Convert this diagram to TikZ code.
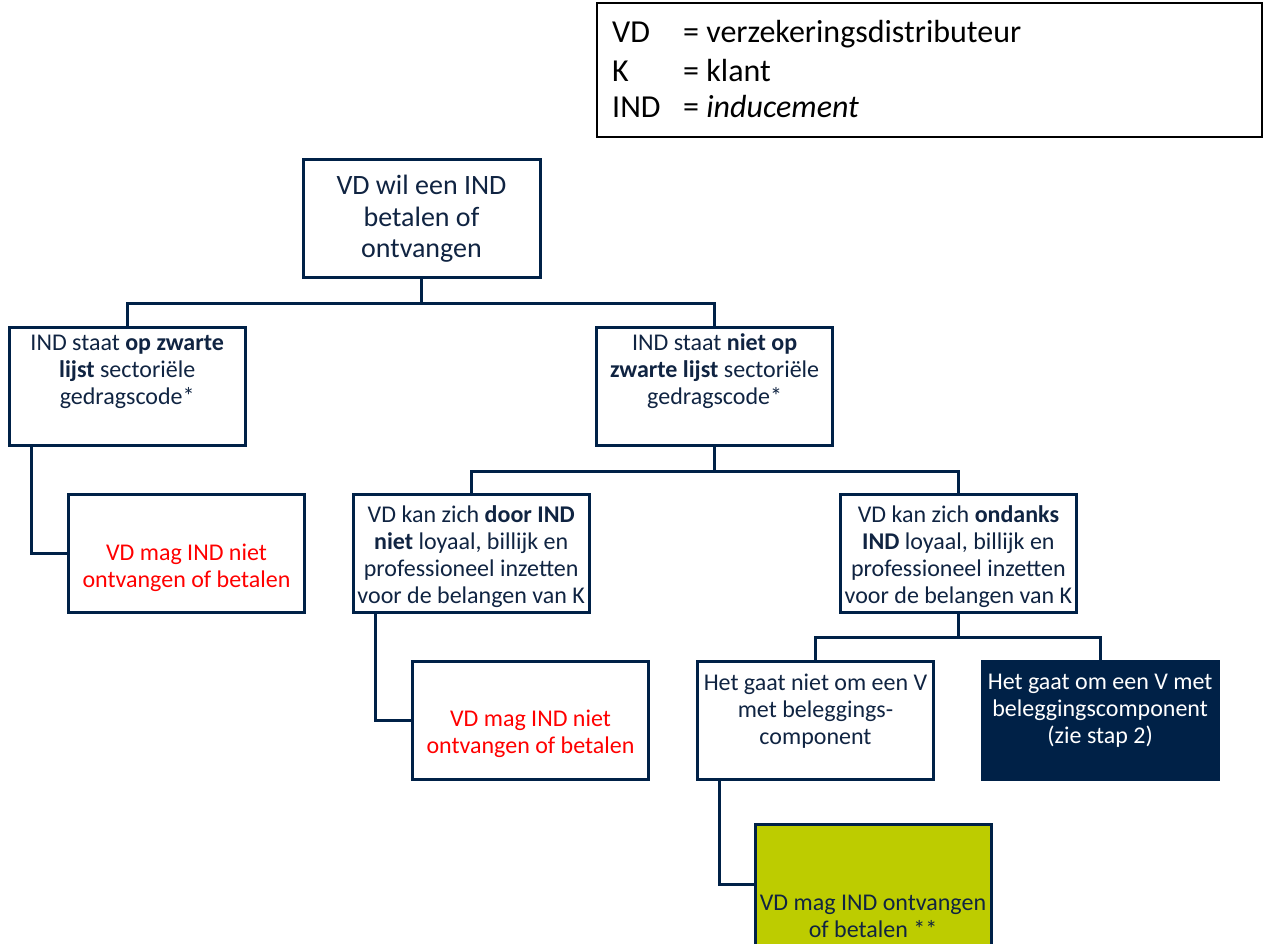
\documentclass[tikz,border=0pt]{standalone}
\usepackage{fontspec}
\setmainfont{Carlito}
\definecolor{navy}{RGB}{0,33,71}
\definecolor{navytext}{RGB}{16,36,66}
\definecolor{limegreen}{RGB}{189,204,0}
\definecolor{alertred}{RGB}{255,0,0}
\begin{document}
\begin{tikzpicture}[x=1pt,y=-1pt,
  box/.style={draw=navy, line width=3pt, minimum width=236pt, minimum height=118pt, inner sep=0pt},
  conn/.style={draw=navy, line width=3pt},
  txt/.style={text=navytext, align=center, inner sep=0pt, font=\fontsize{24}{27}\selectfont},
  legtxt/.style={text=black, anchor=base west, inner sep=0pt, font=\fontsize{32}{38}\selectfont}]
\useasboundingbox (0,0) rectangle (1266,944);
\fill[white] (0,0) rectangle (1266,944);

% legend
\node[draw=black, line width=1.5pt, minimum width=665pt, minimum height=134pt, inner sep=0pt] (leg) at (929.5,70) {};
\node[legtxt] (la) at (612,43) {VD};
\node[legtxt] (lb) at (612,82) {K};
\node[legtxt] (lc) at (612,118) {IND};
\node[legtxt] (lad) at (683,43) {= verzekeringsdistributeur};
\node[legtxt] (lbd) at (683,82) {= klant};
\node[legtxt] (lcd) at (683,118) {= \textit{inducement}};

% boxes
\node[box, minimum width=237pt, minimum height=117pt] (top) at (421.5,218.5) {};
\node[box] (l1) at (127.2,386) {};
\node[box] (m1) at (714.6,386) {};
\node[box] (r1) at (186.5,553) {};
\node[box] (door) at (471.2,553) {};
\node[box] (ond) at (958.4,553) {};
\node[box] (r2) at (530.5,720) {};
\node[box] (het) at (815.5,720) {};
\node[box, fill=navy] (dark) at (1100.1,720) {};
\node[box, fill=limegreen, minimum height=186pt] (green) at (873,917) {};

% texts
\node[txt, font=\fontsize{28}{31.5}\selectfont] (topt) at (421.5,219) {VD wil een IND\\betalen of\\ontvangen};
\node[txt] (l1t) at (127.2,371.5) {IND staat \textbf{op zwarte}\\\textbf{lijst} sectoriële\\gedragscode*};
\node[txt] (m1t) at (714.6,371.5) {IND staat \textbf{niet op}\\\textbf{zwarte lijst} sectoriële\\gedragscode*};
\node[txt, text=alertred] (r1t) at (186.5,567.5) {VD mag IND niet\\ontvangen of betalen};
\node[txt] (doort) at (471.2,557) {VD kan zich \textbf{door IND}\\\textbf{niet} loyaal, billijk en\\professioneel inzetten\\voor de belangen van K};
\node[txt] (ondt) at (958.4,557) {VD kan zich \textbf{ondanks}\\\textbf{IND} loyaal, billijk en\\professioneel inzetten\\voor de belangen van K};
\node[txt, text=alertred] (r2t) at (530.5,734) {VD mag IND niet\\ontvangen of betalen};
\node[txt] (hett) at (815.5,711) {Het gaat niet om een V\\met beleggings-\\component};
\node[txt, text=white] (darkt) at (1100.1,711) {Het gaat om een V met\\beleggingscomponent\\(zie stap 2)};
\node[txt] (greent) at (873,916) {VD mag IND ontvangen\\of betalen **};

% connectors
\draw[conn] (top.south) -- ++(0,25) coordinate (j1);
\draw[conn] (l1.north) |- (j1) -| (m1.north);
\draw[conn] (m1.south) -- ++(0,25) coordinate (j2);
\draw[conn] (door.north) |- (j2) -| (ond.north);
\draw[conn] (ond.south) -- ++(0,24) coordinate (j3);
\draw[conn] (het.north) |- (j3) -| (dark.north);
\draw[conn] ([xshift=24pt]l1.south west) |- (r1.west);
\draw[conn] ([xshift=23.5pt]door.south west) |- (r2.west);
\draw[conn] ([xshift=23.5pt]het.south west) |- ([yshift=33pt]green.west);
\end{tikzpicture}
\end{document}
